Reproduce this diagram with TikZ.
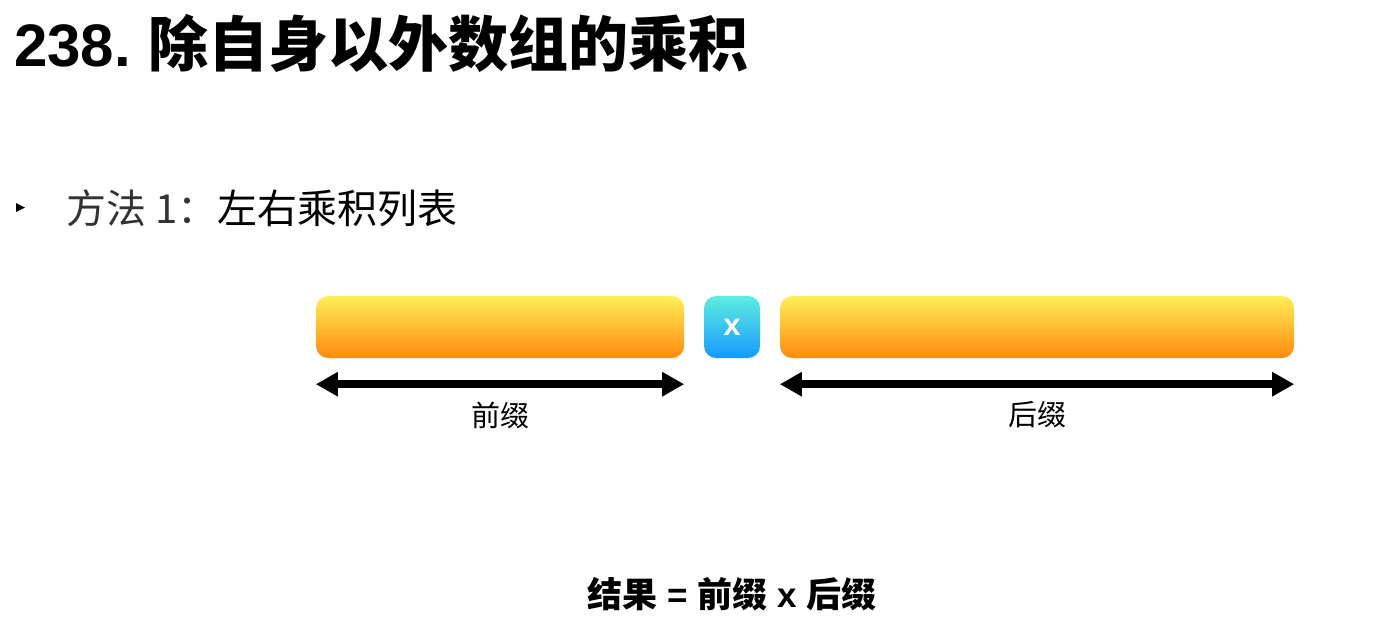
\documentclass[tikz,border=0pt]{standalone}
\usepackage{fontspec}
\setmainfont{Liberation Sans}
\newfontfamily\cjk{Noto Sans CJK SC}
\usetikzlibrary{arrows.meta}
\definecolor{barTop}{HTML}{FFEE58}
\definecolor{barBot}{HTML}{FF8A0E}
\definecolor{boxTop}{HTML}{5EEEE0}
\definecolor{boxBot}{HTML}{1799FF}
\definecolor{subGray}{HTML}{333333}
\begin{document}
\begin{tikzpicture}[x=1pt,y=-1pt,
  bar/.style={rounded corners=12pt, top color=barTop, bottom color=barBot,
    minimum height=62pt, inner sep=0pt, draw=none},
  mulbox/.style={rounded corners=12pt, top color=boxTop, bottom color=boxBot,
    minimum height=62pt, minimum width=56pt, inner sep=0pt, draw=none,
    text=white, font=\fontsize{31}{33}\selectfont\bfseries},
  span/.style={line width=8pt, {Triangle[length=22pt,width=23pt]}-{Triangle[length=22pt,width=23pt]}},
  lbl/.style={inner sep=0pt, font=\cjk\fontsize{29}{31}\selectfont}
]
\useasboundingbox (0,0) rectangle (1384,633);

\node[anchor=base west, inner sep=0pt] (title) at (14,66)
  {\fontsize{60}{62}\selectfont\bfseries 238.\hspace{18pt}{\cjk\bfseries 除自身以外数组的乘积}};

\fill (16,203) -- (25,207.5) -- (16,212) -- cycle;
\node[anchor=base west, inner sep=0pt] (sub) at (66,223)
  {\cjk\fontsize{40}{42}\selectfont{\color{subGray}方法 1：}左右乘积列表};

\node[bar, minimum width=368pt] (pre) at (500,327) {};
\node[mulbox] (mul) at (732,327) {x};
\node[bar, minimum width=514pt] (suf) at (1037,327) {};

\coordinate (preL) at ([yshift=-26pt]pre.south west);
\coordinate (preR) at ([yshift=-26pt]pre.south east);
\coordinate (sufL) at ([yshift=-26pt]suf.south west);
\coordinate (sufR) at ([yshift=-26pt]suf.south east);
\draw[span] (preL) -- (preR);
\draw[span] (sufL) -- (sufR);

\node[lbl] (preT) at (500,415) {前缀};
\node[lbl] (sufT) at (1037,415) {后缀};

\node[inner sep=0pt] (res) at (732,594)
  {\fontsize{35}{37}\selectfont\bfseries{\cjk\bfseries 结果} = {\cjk\bfseries 前缀} x {\cjk\bfseries 后缀}};
\end{tikzpicture}
\end{document}
